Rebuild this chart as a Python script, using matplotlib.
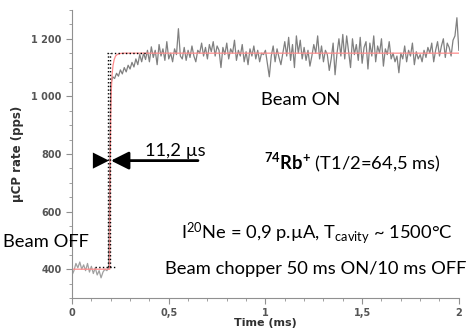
import numpy as np
import matplotlib
matplotlib.use("Agg")
import matplotlib.pyplot as plt
from matplotlib.ticker import MultipleLocator, FixedLocator

plt.rcParams['mathtext.fontset'] = 'custom'
plt.rcParams['mathtext.rm'] = 'Lato'
plt.rcParams['mathtext.it'] = 'Lato:italic'
plt.rcParams['mathtext.bf'] = 'Lato:bold'

# beam off part (0 .. 0.19 ms)
t_off = [0.00, 0.01, 0.02, 0.03, 0.04, 0.05, 0.06, 0.07, 0.08, 0.09,
         0.10, 0.11, 0.12, 0.13, 0.14, 0.15, 0.16, 0.17, 0.18, 0.19]
rate_off = [380, 395, 420, 405, 425, 400, 415, 395, 420, 390,
            410, 385, 405, 380, 395, 370, 390, 400, 395, 405]

# beam on part (0.20 .. 2.00 ms, every 0.01 ms)
t_on = [round(0.20 + 0.01 * i, 2) for i in range(181)]
rate_on = [
    1040, 1068, 1062, 1080, 1070, 1092, 1078, 1100, 1085, 1108,
    1095, 1118, 1102, 1130, 1110, 1145, 1120, 1150, 1128, 1160,
    1120, 1172, 1135, 1160, 1110, 1180, 1140, 1165, 1125, 1190,
    1130, 1150, 1120, 1165, 1145, 1235, 1140, 1130, 1170, 1125,
    1160, 1135, 1175, 1140, 1120, 1160, 1150, 1185, 1140, 1170,
    1130, 1180, 1155, 1190, 1140, 1175, 1160, 1100, 1170, 1145,
    1185, 1130, 1165, 1150, 1195, 1125, 1160, 1140, 1180, 1120,
    1155, 1110, 1165, 1140, 1175, 1130, 1160, 1120, 1150, 1145,
    1160, 1115, 1068, 1140, 1175, 1120, 1165, 1135, 1110, 1150,
    1190, 1140, 1205, 1125, 1180, 1100, 1210, 1150, 1195, 1130,
    1170, 1125, 1160, 1105, 1140, 1180, 1150, 1210, 1130, 1175,
    1120, 1160, 1145, 1090, 1130, 1185, 1075, 1150, 1200, 1140,
    1215, 1130, 1210, 1155, 1100, 1200, 1145, 1180, 1125, 1205,
    1115, 1170, 1190, 1095, 1185, 1140, 1210, 1120, 1175, 1150,
    1200, 1105, 1165, 1145, 1190, 1130, 1150, 1120, 1140, 1082,
    1150, 1130, 1175, 1120, 1160, 1140, 1185, 1110, 1155, 1130,
    1145, 1120, 1160, 1135, 1170, 1150, 1185, 1120, 1160, 1190,
    1140, 1175, 1200, 1135, 1185, 1170, 1140, 1195, 1210, 1273,
    1160,
]

# fit curve (red)
t_fit = [0.0, 0.195, 0.197, 0.200, 0.203, 0.207, 0.212, 0.218, 0.225, 0.235, 0.25, 0.27, 0.30, 2.0]
rate_fit = [400, 400, 760, 930, 1020, 1075, 1108, 1128, 1140, 1146, 1149, 1150, 1150, 1150]

fig = plt.figure(figsize=(4.74, 3.32), dpi=100)
ax = fig.add_axes([0.152, 0.1024, 0.816, 0.8676])

ax.plot(t_off, rate_off, color='#a0a0a0', lw=0.9)
ax.plot([t_off[-1]] + t_on, [rate_off[-1]] + rate_on, color='#808080', lw=0.9)
ax.plot(t_fit, rate_fit, color='#ff8c8c', lw=0.9)

# dotted guide lines
ax.plot([0.185, 0.185], [408, 1150], color='black', ls=':', lw=1)
ax.plot([0.196, 0.196], [408, 1150], color='black', ls=':', lw=1)
ax.plot([0.18, 0.38], [1150, 1150], color='black', ls=':', lw=1)
ax.plot([0.12, 0.23], [408, 408], color='black', ls=':', lw=1)

# arrows showing 11,2 us
ax.annotate('', xy=(0.191, 777), xytext=(0.05, 777),
            arrowprops=dict(arrowstyle='-|>', color='black', lw=0, mutation_scale=29,
                            shrinkA=0, shrinkB=0))
ax.annotate('', xy=(0.201, 777), xytext=(0.651, 777),
            arrowprops=dict(arrowstyle='-|>', color='black', lw=2.0, mutation_scale=27,
                            shrinkA=0, shrinkB=0))

txt = dict(fontfamily='Lato', fontsize=13.2, color='black', ha='center', va='center')
ax.text(0.532, 810, '11,2 µs', **txt)
ax.text(1.18, 987, 'Beam ON', **txt)
ax.text(1.45, 771, r'$\mathbf{^{74}Rb^{+}}$ (T1/2=64,5 ms)', **txt)
ax.text(1.265, 526, r'I$^{20}$Ne = 0,9 p.µA, T$_{\mathrm{cavity}}$ ~ 1500°C', **txt)
ax.text(1.258, 400, 'Beam chopper 50 ms ON/10 ms OFF', **txt)
ax.text(-0.134, 495, 'Beam OFF', clip_on=False, **txt)

ax.set_xlim(0, 2)
ax.set_ylim(300, 1300)
ax.xaxis.set_major_locator(FixedLocator([0, 0.5, 1, 1.5, 2]))
ax.xaxis.set_minor_locator(MultipleLocator(0.1))
ax.set_xticklabels(['0', '0,5', '1', '1,5', '2'])
ax.yaxis.set_major_locator(FixedLocator([400, 600, 800, 1000, 1200]))
ax.yaxis.set_minor_locator(MultipleLocator(50))
ax.set_yticklabels(['400', '600', '800', '1 000', '1 200'])

for s in ['top', 'right']:
    ax.spines[s].set_visible(False)
for s in ['left', 'bottom']:
    ax.spines[s].set_color('#909090')
ax.tick_params(which='major', length=4, color='#909090', labelsize=7, labelcolor='#555555')
ax.tick_params(which='minor', length=2.5, color='#909090')
for lab in ax.get_xticklabels() + ax.get_yticklabels():
    lab.set_fontweight('bold')

ax.set_xlabel('Time (ms)', fontsize=8, fontweight='bold', color='#303030')
ax.xaxis.set_label_coords(0.5, -0.068)
ax.set_ylabel('µCP rate (pps)', fontsize=8.5, fontweight='bold', color='#303030', labelpad=0)
ax.yaxis.set_label_coords(-0.125, 0.5)

fig.savefig('out.png', dpi=100)
